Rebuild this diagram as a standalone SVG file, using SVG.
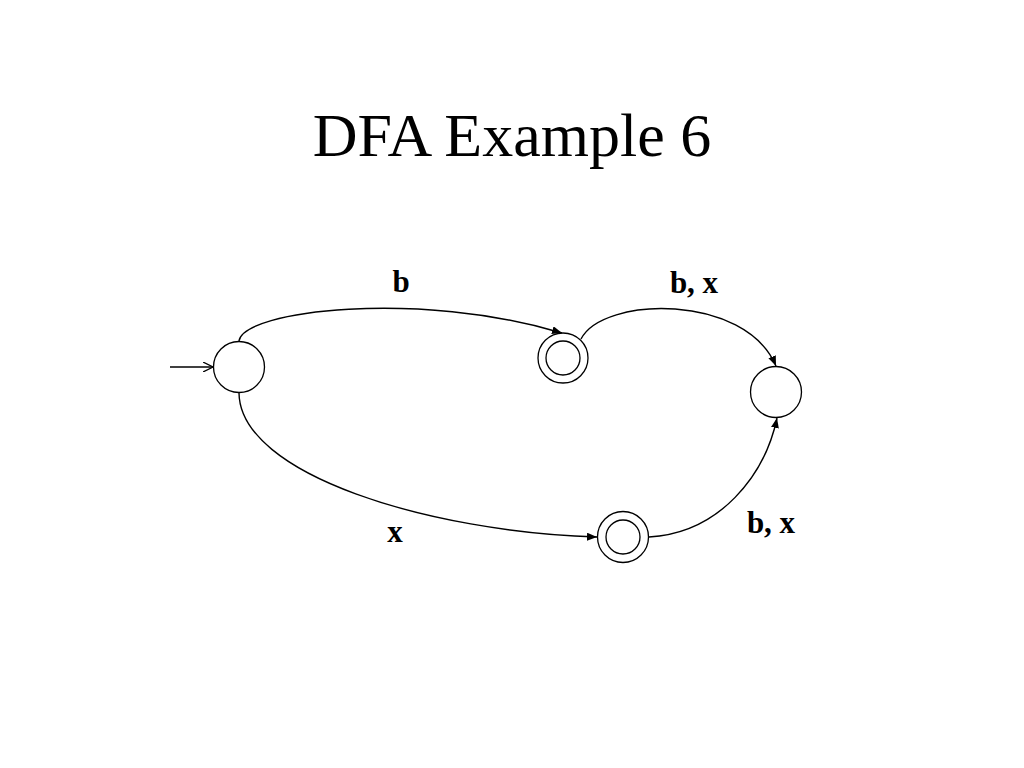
<svg xmlns="http://www.w3.org/2000/svg" width="1024" height="768" viewBox="0 0 1024 768">
<style>
.st{fill:#fff;stroke:#000;stroke-width:1.3}
.ed{fill:none;stroke:#000;stroke-width:1.4}
.lb{font-family:"Liberation Serif","Times New Roman",serif;font-weight:bold;font-size:31px;text-anchor:middle}
.tt{font-family:"Liberation Serif","Times New Roman",serif;font-size:62px;text-anchor:middle}
</style>
<defs>
<marker id="ah" viewBox="0 0 10 8" refX="10" refY="4" markerWidth="10" markerHeight="8" markerUnits="userSpaceOnUse" orient="auto">
<path d="M0,0 L10,4 L0,8 Z" fill="#000"/>
</marker>
<marker id="oh" viewBox="0 0 10 10" refX="10" refY="5" markerWidth="10" markerHeight="10" markerUnits="userSpaceOnUse" orient="auto">
<path d="M0,0 L10,5 L0,10" fill="none" stroke="#000" stroke-width="1.3"/>
</marker>
</defs>
<rect width="1024" height="768" fill="#fff"/>
<text class="tt" x="512" y="156">DFA Example 6</text>
<g id="connectors">
<path class="ed" d="M170,367 L213,367" marker-end="url(#oh)"/>
<path class="ed" d="M239,341 C243,310 420,290 562,333" marker-end="url(#ah)"/>
<path class="ed" d="M581,339 C603,296 745,293 776,366" marker-end="url(#ah)"/>
<path class="ed" d="M239,393 C240,475 430,532 597,537" marker-end="url(#ah)"/>
<path class="ed" d="M649,537 C720,533 765,475 777,418" marker-end="url(#ah)"/>
</g>
<g id="q0"><circle class="st" cx="239" cy="367" r="25.5"/></g>
<g id="q1"><circle class="st" cx="563" cy="358" r="25"/><circle class="st" cx="563" cy="358" r="17"/></g>
<g id="q2"><circle class="st" cx="776" cy="392" r="25.5"/></g>
<g id="q3"><circle class="st" cx="623" cy="537" r="25.5"/><circle class="st" cx="623" cy="537" r="17"/></g>
<g id="labels">
<text class="lb" x="401" y="292">b</text>
<text class="lb" x="694" y="293">b, x</text>
<text class="lb" x="395" y="542">x</text>
<text class="lb" x="771" y="533">b, x</text>
</g>
</svg>
